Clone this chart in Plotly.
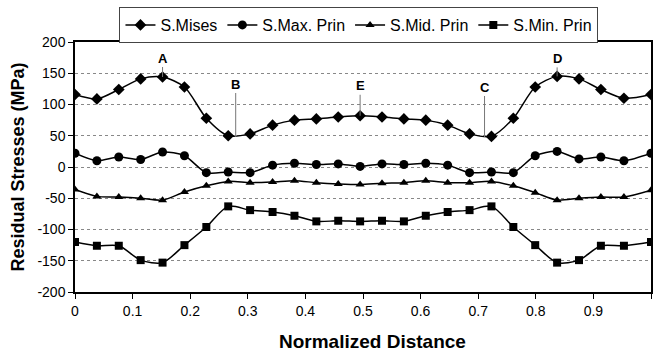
import plotly.graph_objects as go

x_vals = [0, 0.038, 0.076, 0.114, 0.152, 0.190, 0.228, 0.266, 0.304, 0.343, 0.381, 0.419, 0.457,
          0.495, 0.533, 0.571, 0.609, 0.647, 0.685, 0.723, 0.761, 0.799, 0.837, 0.875, 0.913, 0.953, 1.0]

s_mises = [116, 109, 124, 141, 144, 128, 78, 50, 53, 67, 75, 77, 80, 82, 80, 77, 75, 67, 53,
           49, 78, 128, 145, 141, 124, 110, 116]
s_max = [22, 10, 16, 12, 24, 18, -9, -8, -9, 3, 6, 4, 5, 1, 5, 4, 6, 3, -9,
         -8, -9, 18, 25, 13, 16, 10, 22]
s_mid = [-36, -47, -48, -50, -53, -40, -30, -23, -25, -24, -22, -25, -27, -28, -26, -25, -22, -25, -25,
         -23, -30, -41, -53, -50, -48, -48, -37]
s_min = [-120, -126, -126, -149, -153, -125, -96, -63, -69, -72, -78, -87, -86, -87, -86, -87, -78, -72, -69,
         -63, -96, -125, -153, -149, -126, -126, -120]

series_names = ["S.Mises", "S.Max. Prin", "S.Mid. Prin", "S.Min. Prin"]
series_data = [s_mises, s_max, s_mid, s_min]
symbols = ["diamond", "circle", "triangle-up", "square"]
sizes = [9, 9, 8, 8]

x_ticks = [0, 0.1, 0.2, 0.3, 0.4, 0.5, 0.6, 0.7, 0.8, 0.9, 1]
x_tick_text = ["0", "0.1", "0.2", "0.3", "0.4", "0.5", "0.6", "0.7", "0.8", "0.9", "1"]
y_ticks = [-200, -150, -100, -50, 0, 50, 100, 150, 200]
y_tick_text = ["-200", "-150", "-100", "-50", "0", "50", "100", "150", "200"]

labels = ["A", "B", "C", "D", "E"]
label_x = [0.152, 0.279, 0.711, 0.837, 0.495]
label_y = [144, 48, 48, 145, 82]
label_ay = [-19, -53, -50, -18, -30]

font_family = "Liberation Sans, Arial, sans-serif"

fig = go.Figure()
for name, ys, sym, sz in zip(series_names, series_data, symbols, sizes):
    fig.add_trace(go.Scatter(
        x=x_vals, y=ys, name=name, mode="lines+markers",
        line=dict(color="black", width=1.5, shape="spline", smoothing=0.8),
        marker=dict(symbol=sym, size=sz, color="black"),
    ))

for lab, lx, ly, ay in zip(labels, label_x, label_y, label_ay):
    fig.add_annotation(
        x=lx, y=ly, xref="x", yref="y", text="<b>" + lab + "</b>",
        showarrow=True, arrowhead=0, arrowwidth=1, arrowcolor="#777777",
        ax=0, ay=ay, font=dict(size=13, color="black", family=font_family),
    )

# x-axis title (placed as annotation to match the off-centre position)
fig.add_annotation(
    x=0.517, y=-0.196, xref="paper", yref="paper", xanchor="center", yanchor="middle",
    text="<b>Normalized Distance</b>", showarrow=False,
    font=dict(size=19, color="black", family=font_family),
)

fig.update_layout(
    width=654, height=353,
    margin=dict(l=75, r=1, t=42, b=61),
    paper_bgcolor="white", plot_bgcolor="white",
    font=dict(family=font_family, color="black", size=14),
    showlegend=True,
    legend=dict(
        orientation="h", x=0.493, xanchor="center", y=1.14, yanchor="top",
        bordercolor="#444444", borderwidth=1, bgcolor="white",
        font=dict(size=16, family=font_family), itemwidth=30,
        tracegroupgap=0,
    ),
    xaxis=dict(
        range=[0, 1], tickvals=x_ticks, ticktext=x_tick_text, showgrid=False, zeroline=False,
        showline=True, linecolor="black", linewidth=1.5, mirror=True,
        ticks="outside", ticklen=5, tickcolor="black",
        tickfont=dict(size=14),
    ),
    yaxis=dict(
        range=[-200, 200], tickvals=y_ticks, ticktext=y_tick_text, showgrid=True,
        gridcolor="#888888", griddash="dot", gridwidth=1, zeroline=False,
        showline=True, linecolor="black", linewidth=1.5, mirror=True,
        ticks="outside", ticklen=5, tickcolor="black",
        tickfont=dict(size=14),
        title=dict(text="<b>Residual Stresses (MPa)</b>", font=dict(size=18), standoff=8),
    ),
)

fig.write_html("out.html")
